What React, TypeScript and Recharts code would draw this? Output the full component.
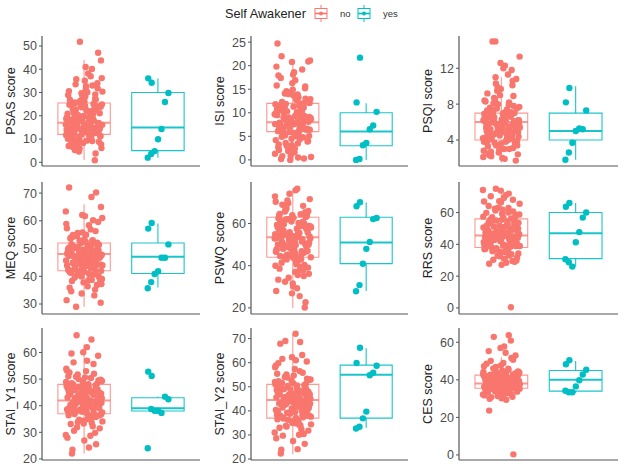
import {
  ReferenceArea,
  ReferenceLine,
  Scatter,
  ScatterChart,
  XAxis,
  YAxis,
} from "recharts";

const NO_COLOR = "#F8766D";
const YES_COLOR = "#00BFC4";

// values (box = [lower whisker, q1, median, q3, upper whisker])
const psasNo = [17.2, 12.5, 24.1, 8.3, 30.6, 15.1, 19.8, 11.2, 22.4, 6.7, 27.3, 14.2, 18.6, 9.9, 33.5, 16.4, 13.1, 25.8, 20.7, 4.6, 36.2, 15.8, 10.4, 23.2, 17.9, 28.9, 12.9, 7.4, 21.1, 41.0, 16.8, 14.7, 26.4, 11.7, 19.3, 5.3, 31.8, 13.6, 24.7, 9.1, 18.1, 43.8, 15.4, 22.9, 3.8, 29.7, 12.1, 17.5, 20.3, 8.8, 35.1, 14.9, 25.1, 10.9, 16.1, 38.2, 19.0, 13.4, 27.9, 7.0, 22.0, 16.6, 11.4, 32.7, 18.3, 0.9, 24.4, 14.0, 21.6, 9.5, 47.1, 15.6, 26.9, 12.3, 20.0, 6.1, 30.1, 17.0, 13.8, 23.6, 10.1, 37.0, 18.9, 15.0, 28.3, 8.0, 21.9, 51.8, 16.2, 11.9, 25.4, 34.0, 19.6, 12.7, 40.1, 14.5, 23.9, 9.3, 17.6, 29.2,
  14.3, 19.4, 11.0, 22.7, 16.9, 26.1, 13.0, 18.4, 9.7, 24.9, 15.3, 21.3, 12.6, 28.6, 17.4, 10.6, 20.6, 14.6, 31.3, 16.0, 23.0, 8.5, 18.7, 13.3, 25.7, 15.9, 19.9, 11.5, 33.0, 17.8, 7.7, 22.2, 14.8, 27.0, 12.0, 20.9, 16.3, 35.7, 13.9, 24.2, 10.0, 18.0, 5.8, 30.4, 15.5];
const psasYes = [34.2, 36.1, 29.8, 25.9, 14.3, 9.9, 4.8, 3.6, 2.0];
const psasBoxNo = [1, 12, 17, 25.5, 44];
const psasBoxYes = [2, 5, 15, 30, 36];
const psasTicks = [0, 10, 20, 30, 40, 50];

const isiNo = [8.1, 6.2, 12.4, 3.1, 10.2, 7.3, 14.6, 5.1, 9.3, 0.2, 11.1, 7.8, 4.2, 13.3, 8.7, 6.6, 18.1, 2.1, 9.8, 7.1, 12.9, 5.7, 0.8, 15.2, 8.4, 10.8, 6.9, 3.6, 20.9, 7.6, 11.6, 4.8, 9.0, 1.3, 13.9, 8.9, 6.4, 16.3, 2.7, 10.5, 7.4, 12.1, 5.4, 22.0, 8.2, 0.0, 9.6, 6.0, 14.1, 3.9, 11.3, 7.9, 19.2, 1.9, 8.6, 10.1, 6.8, 13.0, 4.5, 24.7, 9.2, 7.2, 12.6, 2.4, 17.4, 8.0, 5.9, 11.8, 0.5, 10.0, 6.5, 14.9, 3.3, 9.4, 7.7, 21.1, 5.0, 12.3, 8.5, 1.0, 15.8, 6.3, 10.6, 4.0, 18.6, 7.5, 11.0, 2.0, 9.7, 13.6, 5.6, 8.8, 20.8, 6.1, 12.0, 3.0, 9.1, 16.9, 7.0, 0.3,
  7.4, 9.9, 5.3, 11.4, 8.3, 13.7, 6.7, 10.4, 2.9, 8.9, 12.7, 6.0, 15.6, 7.9, 9.5, 4.4, 11.9, 8.1, 1.6, 10.9, 6.9, 14.3, 7.6, 3.5, 9.0, 12.2, 5.8, 17.9, 8.6, 10.3, 6.4, 13.1, 4.9, 9.3, 7.1, 19.8, 11.5, 5.2, 8.4, 2.5, 10.7, 6.6, 14.0, 0.6, 9.8];
const isiYes = [21.7, 12.2, 10.2, 7.3, 6.5, 3.6, 3.1, 0.2, 0.0];
const isiBoxNo = [0, 6, 8, 12, 21];
const isiBoxYes = [0, 3, 6, 10, 12];
const isiTicks = [0, 5, 10, 15, 20, 25];

const psqiNo = [6.1, 4.2, 7.0, 3.1, 5.4, 8.2, 5.9, 2.4, 6.8, 4.7, 10.1, 5.2, 3.8, 7.4, 6.3, 1.7, 4.9, 9.2, 6.6, 3.4, 5.7, 12.3, 4.1, 7.8, 2.9, 6.0, 5.1, 8.7, 3.9, 6.9, 4.4, 11.8, 5.5, 2.1, 7.2, 6.4, 3.6, 9.7, 5.0, 4.6, 15.0, 6.2, 3.0, 7.6, 5.8, 2.6, 8.4, 4.0, 6.7, 10.8, 5.3, 3.3, 7.1, 4.8, 13.3, 6.5, 2.2, 5.6, 9.0, 4.3, 7.9, 3.7, 6.1, 12.0, 5.0, 4.5, 8.0, 2.8, 6.9, 15.0, 3.5, 5.9, 7.3, 4.1, 10.3, 6.2, 1.9, 5.2, 8.9, 3.2, 6.6, 11.3, 4.6, 7.5, 5.4, 2.5, 6.8, 9.5, 4.2, 3.9, 7.0, 5.7, 12.6, 6.4, 3.0, 8.5, 4.9, 6.0, 2.3, 10.6,
  5.6, 6.9, 4.3, 7.2, 5.1, 6.3, 3.9, 6.7, 4.8, 7.7, 5.9, 2.7, 6.1, 4.5, 8.3, 5.3, 6.5, 3.4, 7.0, 5.8, 4.1, 9.9, 6.2, 4.7, 7.4, 5.0, 3.6, 6.8, 5.5, 11.0, 4.4, 6.0, 7.1, 3.1, 5.7, 6.4, 4.0, 8.1, 5.2, 2.0, 6.6, 4.9, 7.5, 5.4, 3.8];
const psqiYes = [9.8, 8.2, 7.3, 5.2, 5.3, 5.0, 3.7, 2.6, 1.8];
const psqiBoxNo = [1.5, 4, 6, 7, 11];
const psqiBoxYes = [1.8, 4, 5, 7, 10];
const psqiTicks = [4, 8, 12];

const meqNo = [48.2, 42.5, 52.1, 45.0, 50.3, 38.7, 55.6, 47.1, 43.8, 51.0, 35.2, 49.4, 57.3, 44.6, 46.5, 40.1, 53.4, 48.9, 60.2, 41.7, 47.8, 36.4, 50.8, 44.0, 62.1, 49.9, 42.9, 54.5, 39.3, 46.2, 51.6, 33.1, 48.5, 45.7, 58.4, 43.2, 50.0, 37.8, 47.4, 52.8, 41.1, 65.0, 49.1, 44.9, 56.3, 39.9, 48.0, 46.9, 29.0, 51.4, 43.5, 53.9, 40.6, 47.6, 61.0, 45.3, 50.6, 36.9, 49.6, 42.2, 68.6, 47.0, 44.3, 55.0, 38.3, 48.7, 51.9, 31.4, 46.0, 43.0, 59.6, 49.3, 41.5, 53.0, 45.9, 37.2, 50.2, 47.3, 70.2, 42.7, 48.4, 56.9, 40.3, 46.7, 52.5, 34.6, 49.0, 44.5, 63.4, 47.9, 39.5, 51.2, 45.5, 72.0, 43.6, 50.5, 30.5, 48.1, 54.2, 41.9,
  47.5, 43.9, 50.9, 46.1, 49.2, 41.6, 53.6, 45.2, 48.8, 39.0, 51.1, 44.7, 47.0, 55.8, 42.4, 49.8, 45.9, 37.5, 52.3, 48.3, 43.1, 46.6, 58.9, 40.8, 50.4, 47.7, 44.2, 35.9, 51.7, 46.3, 42.0, 49.5, 54.9, 45.0, 33.8, 48.6, 43.4, 50.1, 46.8, 61.7, 41.3, 47.2, 52.9, 44.0, 38.6];
const meqYes = [59.2, 57.2, 51.5, 46.7, 46.7, 41.8, 40.8, 37.9, 35.7];
const meqBoxNo = [29, 42, 48, 52, 66];
const meqBoxYes = [36, 41, 47, 52, 59];
const meqTicks = [30, 40, 50, 60, 70];

const pswqNo = [53.6, 44.2, 63.1, 48.7, 58.2, 39.5, 67.4, 51.0, 45.8, 60.6, 35.1, 55.9, 70.3, 42.6, 49.9, 64.8, 30.2, 57.1, 46.9, 62.0, 53.0, 40.7, 68.9, 50.4, 44.9, 59.3, 25.6, 54.8, 66.0, 47.5, 61.5, 37.8, 52.2, 72.9, 43.3, 56.6, 49.2, 64.0, 33.4, 58.8, 45.1, 53.9, 75.8, 41.4, 60.1, 50.9, 28.0, 55.2, 65.7, 47.0, 62.7, 38.6, 52.6, 69.6, 44.0, 57.5, 48.3, 22.7, 61.0, 54.3, 43.6, 66.8, 36.2, 51.7, 59.9, 46.4, 74.1, 40.0, 56.0, 49.5, 63.6, 31.6, 53.3, 45.4, 70.9, 58.4, 42.1, 51.3, 20.2, 62.3, 47.8, 55.5, 67.9, 39.1, 54.0, 44.6, 60.8, 34.3, 52.9, 76.5, 48.0, 57.8, 26.9, 50.1, 64.4, 43.0, 58.9, 37.0, 53.1, 46.1,
  52.4, 46.6, 60.3, 49.0, 56.9, 43.8, 63.9, 51.5, 45.2, 58.6, 41.7, 54.6, 65.4, 47.9, 53.5, 38.0, 61.9, 50.0, 44.4, 57.0, 68.4, 48.6, 55.0, 35.6, 59.7, 46.8, 52.0, 62.5, 43.1, 54.8, 71.6, 49.8, 57.9, 40.4, 53.7, 47.2, 60.0, 32.4, 55.7, 45.7, 64.6, 51.9, 44.7, 58.1, 29.3];
const pswqYes = [70.1, 68.2, 62.6, 62.1, 51.3, 48.0, 40.9, 30.8, 27.9];
const pswqBoxNo = [20, 44, 53.5, 63, 76];
const pswqBoxYes = [28, 41, 51, 63, 70];
const pswqTicks = [20, 40, 60];

const rrsNo = [45.6, 38.2, 56.1, 41.9, 50.3, 33.0, 62.4, 44.1, 39.7, 53.2, 29.5, 47.8, 66.9, 36.4, 43.0, 58.6, 27.1, 48.9, 40.5, 55.0, 46.3, 35.1, 70.2, 42.6, 51.8, 37.3, 60.0, 44.8, 31.7, 49.6, 64.1, 39.0, 46.9, 57.4, 28.4, 43.7, 52.5, 73.8, 38.8, 45.1, 61.3, 34.2, 50.9, 41.2, 68.0, 47.3, 36.9, 54.4, 30.3, 44.4, 59.2, 40.1, 0.4, 48.2, 65.5, 37.7, 46.0, 53.8, 32.5, 42.3, 71.9, 45.9, 39.4, 56.8, 27.8, 49.1, 63.0, 41.5, 47.0, 35.6, 58.0, 43.4, 52.0, 38.5, 75.0, 46.6, 30.9, 55.6, 42.0, 67.2, 44.7, 36.1, 51.2, 40.9, 61.8, 48.5, 33.8, 45.3, 74.2, 39.2, 54.9, 29.0, 47.5, 59.8, 43.1, 37.0, 50.0, 69.1, 41.7, 45.0,
  44.3, 40.0, 52.7, 46.8, 38.9, 55.4, 43.6, 49.4, 37.5, 58.8, 45.7, 41.6, 51.0, 35.3, 47.6, 62.9, 42.8, 48.0, 39.6, 54.1, 44.9, 32.9, 50.6, 46.2, 57.0, 40.7, 66.4, 43.3, 48.7, 36.6, 53.5, 45.4, 41.0, 60.7, 47.9, 38.1, 52.2, 44.0, 29.9, 49.9, 42.5, 56.3, 46.5, 39.0, 70.9];
const rrsYes = [66.0, 63.6, 60.0, 56.8, 47.7, 41.3, 26.0, 28.7, 30.6];
const rrsBoxNo = [27, 38, 45.5, 56, 75];
const rrsBoxYes = [26, 31, 47, 60, 66];
const rrsTicks = [0, 20, 40, 60];

const staiY1No = [42.1, 37.2, 48.3, 39.9, 45.0, 33.6, 51.7, 41.0, 38.4, 46.6, 29.8, 43.5, 53.2, 36.1, 40.6, 49.5, 26.9, 44.2, 38.9, 47.1, 42.8, 35.0, 56.3, 40.2, 45.8, 37.9, 50.4, 43.0, 31.5, 41.7, 59.6, 39.4, 44.7, 48.9, 24.3, 42.4, 46.1, 34.4, 52.5, 40.0, 43.9, 36.7, 62.0, 41.3, 47.7, 38.1, 28.0, 45.3, 50.9, 39.2, 42.6, 33.1, 55.7, 44.0, 37.5, 46.9, 30.6, 41.9, 49.1, 36.4, 64.9, 43.2, 40.8, 53.0, 22.0, 45.6, 38.7, 47.4, 35.5, 42.0, 58.8, 39.6, 44.4, 32.3, 50.0, 41.2, 37.0, 48.0, 25.5, 43.7, 46.4, 34.9, 66.5, 40.4, 45.1, 38.0, 52.0, 42.9, 29.0, 47.0, 36.9, 44.9, 60.1, 39.1, 41.5, 33.9, 49.8, 43.3, 23.5, 46.0,
  41.4, 38.6, 45.5, 43.0, 36.3, 47.9, 40.3, 44.1, 34.7, 49.3, 42.3, 39.5, 46.3, 37.7, 51.1, 41.8, 31.9, 44.8, 40.1, 48.5, 36.0, 43.6, 53.9, 39.8, 45.9, 42.7, 33.3, 47.2, 40.9, 38.2, 44.5, 56.9, 41.1, 35.8, 46.7, 43.1, 28.7, 42.2, 39.0, 50.6, 45.2, 37.4, 41.6, 34.1, 48.1];
const staiY1Yes = [51.2, 52.8, 42.4, 43.4, 37.3, 38.1, 38.1, 38.8, 24.0];
const staiY1BoxNo = [22, 37, 42, 48, 63];
const staiY1BoxYes = [37, 38, 39, 43, 43.5];
const staiY1Ticks = [20, 30, 40, 50, 60];

const staiY2No = [44.6, 37.3, 51.2, 41.0, 47.8, 33.9, 55.1, 43.2, 39.5, 49.6, 30.4, 46.0, 58.7, 36.0, 42.4, 53.3, 27.5, 48.5, 40.2, 50.3, 45.1, 34.8, 61.6, 42.0, 47.0, 38.4, 56.5, 44.0, 31.8, 43.7, 67.9, 39.9, 46.7, 52.0, 24.1, 45.5, 49.0, 35.6, 59.8, 41.7, 44.9, 37.9, 72.0, 43.4, 50.7, 38.8, 28.6, 47.4, 54.1, 40.6, 45.8, 33.0, 63.2, 46.3, 37.6, 49.9, 29.7, 44.3, 52.6, 36.5, 68.6, 42.9, 41.3, 57.4, 22.3, 48.1, 39.1, 50.9, 35.2, 44.1, 60.5, 40.9, 46.9, 32.4, 53.8, 43.0, 37.1, 51.6, 26.3, 45.9, 48.8, 34.1, 69.0, 42.2, 47.2, 38.1, 55.8, 44.7, 31.0, 49.3, 36.8, 46.5, 62.3, 40.0, 43.8, 33.5, 52.9, 45.3, 23.9, 48.6,
  44.0, 40.4, 48.4, 45.7, 38.6, 51.4, 43.1, 47.5, 36.3, 53.0, 44.8, 41.4, 49.5, 39.7, 55.4, 45.2, 33.7, 47.9, 42.6, 50.2, 37.3, 46.1, 58.1, 41.8, 49.0, 44.4, 35.0, 52.3, 43.5, 39.2, 46.8, 61.0, 42.5, 37.9, 48.9, 45.6, 30.1, 44.2, 40.8, 54.7, 47.1, 38.3, 43.9, 34.4, 50.6];
const staiY2Yes = [66.2, 59.9, 58.7, 55.8, 54.8, 39.7, 36.9, 33.4, 32.7];
const staiY2BoxNo = [22, 37, 44.5, 51, 72];
const staiY2BoxYes = [33, 37, 55, 59, 66];
const staiY2Ticks = [20, 30, 40, 50, 60, 70];

const cesNo = [38.1, 35.4, 42.6, 36.9, 40.2, 33.1, 44.8, 37.6, 35.9, 41.3, 31.0, 39.0, 47.2, 34.2, 37.2, 43.5, 30.2, 40.7, 36.4, 42.0, 38.5, 32.6, 50.1, 37.9, 41.0, 35.0, 45.9, 39.4, 33.7, 38.8, 55.3, 36.1, 40.0, 43.0, 29.4, 38.3, 41.6, 34.8, 48.6, 37.0, 39.7, 35.7, 57.8, 38.0, 42.9, 36.6, 31.7, 40.4, 46.1, 37.4, 39.2, 33.4, 60.9, 41.9, 35.2, 44.0, 30.8, 38.6, 43.8, 36.2, 63.7, 39.9, 37.8, 49.0, 23.6, 41.2, 36.8, 42.3, 34.5, 38.9, 53.0, 37.3, 40.9, 32.9, 46.8, 39.5, 35.6, 42.7, 0.3, 38.2, 41.4, 34.0, 62.9, 37.7, 40.5, 36.0, 51.6, 39.1, 32.2, 43.2, 35.3, 40.8, 57.0, 38.4, 37.1, 33.9, 44.5, 39.6, 29.9, 41.7,
  38.5, 36.3, 41.1, 39.3, 35.1, 42.5, 37.5, 40.3, 34.3, 43.9, 38.0, 36.7, 41.8, 33.2, 39.8, 45.3, 37.0, 40.6, 35.8, 42.1, 38.7, 31.4, 44.2, 37.9, 39.4, 36.5, 47.7, 40.1, 34.6, 38.3, 42.8, 35.4, 39.0, 50.7, 37.2, 41.5, 33.6, 38.9, 36.0, 44.9, 40.4, 32.4, 39.7, 37.6, 54.4];
const cesYes = [50.4, 48.3, 45.4, 42.8, 39.8, 36.5, 33.4, 33.4, 34.2];
const cesBoxNo = [29, 35.5, 38, 42.5, 52];
const cesBoxYes = [33, 34, 40, 45, 50];
const cesTicks = [0, 20, 40, 60];

const groups = ["no", "yes"];

const panels = [
  { label: "PSAS score", no: psasNo, yes: psasYes, boxNo: psasBoxNo, boxYes: psasBoxYes, ticks: psasTicks, domain: [-1.6, 54.3] },
  { label: "ISI score", no: isiNo, yes: isiYes, boxNo: isiBoxNo, boxYes: isiBoxYes, ticks: isiTicks, domain: [-1.3, 26.3] },
  { label: "PSQI score", no: psqiNo, yes: psqiYes, boxNo: psqiBoxNo, boxYes: psqiBoxYes, ticks: psqiTicks, domain: [1.1, 15.6] },
  { label: "MEQ score", no: meqNo, yes: meqYes, boxNo: meqBoxNo, boxYes: meqBoxYes, ticks: meqTicks, domain: [26.4, 74] },
  { label: "PSWQ score", no: pswqNo, yes: pswqYes, boxNo: pswqBoxNo, boxYes: pswqBoxYes, ticks: pswqTicks, domain: [17.1, 79.7] },
  { label: "RRS score", no: rrsNo, yes: rrsYes, boxNo: rrsBoxNo, boxYes: rrsBoxYes, ticks: rrsTicks, domain: [-3.8, 79.2] },
  { label: "STAI_Y1 score", no: staiY1No, yes: staiY1Yes, boxNo: staiY1BoxNo, boxYes: staiY1BoxYes, ticks: staiY1Ticks, domain: [19.6, 69.2] },
  { label: "STAI_Y2 score", no: staiY2No, yes: staiY2Yes, boxNo: staiY2BoxNo, boxYes: staiY2BoxYes, ticks: staiY2Ticks, domain: [19.6, 74.4] },
  { label: "CES score", no: cesNo, yes: cesYes, boxNo: cesBoxNo, boxYes: cesBoxYes, ticks: cesTicks, domain: [-2.7, 67.6] },
];

// layout of the 3x3 grid
const colLeft = [0, 205, 410];
const colAxisWidth = [42, 46, 49];
const colWidth = [210, 210, 215];
const colRight = [10, 7, 7];
const rowTop = [0, 166, 314];
const rowHeight = [176, 158, 156];
const rowMarginTop = [36, 16, 14];
const BOTTOM = 10;

const HALF = 0.355;
const X_DOMAIN = [0.43, 2.57];

// deterministic horizontal spread, like geom_jitter
const spread = (i: number, w: number) => ((((i + 1) * 0.618034) % 1) - 0.5) * w;

function Dot(color: string) {
  return (p: any) => <circle cx={p.cx} cy={p.cy} r={3.2} fill={color} />;
}

function BoxPlot(pos: number, box: number[], color: string, opacity: number) {
  const [lo, q1, med, q3, hi] = box;
  return [
    <ReferenceLine key={`wl${pos}`} segment={[{ x: pos, y: lo }, { x: pos, y: q1 }]} stroke={color} strokeOpacity={opacity} strokeWidth={1.1} />,
    <ReferenceLine key={`wh${pos}`} segment={[{ x: pos, y: q3 }, { x: pos, y: hi }]} stroke={color} strokeOpacity={opacity} strokeWidth={1.1} />,
    <ReferenceArea key={`b${pos}`} x1={pos - HALF} x2={pos + HALF} y1={q1} y2={q3} fill="none" fillOpacity={0} stroke={color} strokeOpacity={opacity} strokeWidth={1.1} />,
    <ReferenceLine key={`m${pos}`} segment={[{ x: pos - HALF, y: med }, { x: pos + HALF, y: med }]} stroke={color} strokeOpacity={opacity} strokeWidth={2} />,
  ];
}

function Panel({ idx }: { idx: number }) {
  const p = panels[idx];
  const c = idx % 3;
  const r = Math.floor(idx / 3);
  const noData = p.no.map((v, i) => ({ x: 1 + spread(i, 0.5), y: v }));
  const yesData = p.yes.map((v, i) => ({ x: 2 + spread(i * 3 + 1, 0.32), y: v }));
  const size = { width: colWidth[c], height: rowHeight[r] };
  const margin = { top: rowMarginTop[r], right: colRight[c], bottom: BOTTOM - 2, left: 0 };
  const layer = { position: "absolute" as const, left: 0, top: 0 };
  return (
    <div style={{ position: "absolute", left: colLeft[c], top: rowTop[r] }}>
      {/* bottom layer: axes and boxes */}
      <div style={layer}>
        <ScatterChart {...size} margin={margin}>
          <XAxis
            type="number"
            dataKey="x"
            domain={X_DOMAIN}
            allowDataOverflow
            tick={false}
            tickLine={false}
            height={2}
            axisLine={{ stroke: "#555", strokeWidth: 1.2 }}
          />
          <YAxis
            type="number"
            dataKey="y"
            domain={p.domain}
            allowDataOverflow
            ticks={p.ticks}
            interval={0}
            width={colAxisWidth[c]}
            tickSize={3}
            tickMargin={2}
            tick={{ fill: "#4d4d4d", fontSize: 12.5 }}
            tickLine={{ stroke: "#555" }}
            axisLine={{ stroke: "#555", strokeWidth: 1.2 }}
            label={{
              value: p.label,
              angle: -90,
              position: "insideLeft",
              offset: colAxisWidth[c] - 31,
              style: { textAnchor: "middle", fill: "#222", fontSize: 12.5 },
            }}
          />
          {BoxPlot(1, p.boxNo, NO_COLOR, 0.75)}
          {BoxPlot(2, p.boxYes, YES_COLOR, 0.9)}
        </ScatterChart>
      </div>
      {/* top layer: the jittered points, same scales */}
      <div style={layer}>
        <ScatterChart {...size} margin={margin}>
          <XAxis type="number" dataKey="x" domain={X_DOMAIN} allowDataOverflow tick={false} tickLine={false} axisLine={false} height={2} />
          <YAxis type="number" dataKey="y" domain={p.domain} allowDataOverflow ticks={p.ticks} width={colAxisWidth[c]} tick={false} tickLine={false} axisLine={false} />
          <Scatter name={groups[0]} data={noData} shape={Dot(NO_COLOR)} isAnimationActive={false} />
          <Scatter name={groups[1]} data={yesData} shape={Dot(YES_COLOR)} isAnimationActive={false} />
        </ScatterChart>
      </div>
    </div>
  );
}

function KeyGlyph({ x, color }: { x: number; color: string }) {
  return (
    <g>
      <line x1={x + 6} y1={5} x2={x + 6} y2={22} stroke={color} strokeWidth={1} />
      <rect x={x} y={8.5} width={12} height={10} fill="#fff" stroke={color} strokeWidth={1} />
      <line x1={x} y1={13.5} x2={x + 12} y2={13.5} stroke={color} strokeWidth={1.6} />
      <circle cx={x + 6} cy={13.5} r={2} fill={color} />
    </g>
  );
}

export default function App() {
  return (
    <div
      style={{
        position: "absolute",
        left: 0,
        top: 0,
        width: 625,
        height: 469,
        overflow: "hidden",
        background: "#fff",
        fontFamily: "Arial, 'Liberation Sans', sans-serif",
      }}
    >
      <svg width={625} height={30} style={{ position: "absolute", left: 0, top: 0 }}>
        <text x={225} y={18} fontSize={12.7} fill="#222">Self Awakener</text>
        <KeyGlyph x={315} color={NO_COLOR} />
        <text x={340} y={17} fontSize={9.5} fill="#333">{groups[0]}</text>
        <KeyGlyph x={358} color={YES_COLOR} />
        <text x={383} y={17} fontSize={9.5} fill="#333">{groups[1]}</text>
      </svg>
      {panels.map((_, i) => (
        <Panel key={i} idx={i} />
      ))}
    </div>
  );
}
